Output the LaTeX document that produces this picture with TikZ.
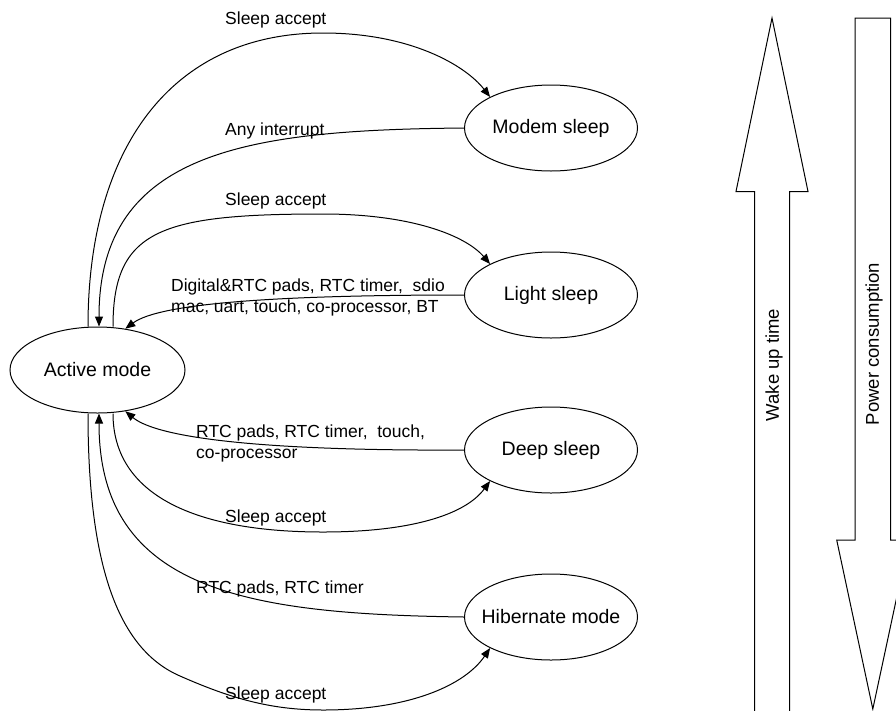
\documentclass[tikz,border=0pt]{standalone}
\usepackage{fontspec}
\setmainfont{Liberation Sans}
\usetikzlibrary{shapes.geometric,arrows.meta}
\newcommand\zwbox[1]{\makebox[0pt]{#1}}
\begin{document}
\begin{tikzpicture}[x=1pt,y=-1pt,
  state/.style={ellipse,draw,line width=1pt,inner sep=0pt,minimum width=173pt,minimum height=86pt,font=\fontsize{19.5}{23}\selectfont},
  lbl/.style={anchor=west,inner sep=0pt,align=left,font=\fontsize{17.5}{21}\selectfont},
  conn/.style={line width=1pt,-{Triangle[length=10pt,width=8pt]}},
  bigarrow/.style={draw,line width=1pt,line join=miter},
  vlbl/.style={rotate=90,inner sep=0pt,font=\fontsize{18.5}{22}\selectfont}]
\useasboundingbox (0,0) rectangle (896,710);
\begin{scope}
\clip (0,0) rectangle (896,710);
% states
\node[state,minimum width=175pt] (act) at (97.5,370) {\zwbox{Active mode}};
\node[state] (modem) at (551,128) {\zwbox{Modem sleep}};
\node[state] (light) at (551,295) {\zwbox{Light sleep}};
\node[state] (deep) at (551,450) {\zwbox{Deep sleep}};
\node[state] (hib) at (551,617) {\zwbox{Hibernate mode}};
% connectors
\draw[conn] ([xshift=-9.5pt]act.north) .. controls (88,150) and (170,33) .. (323,33)
  .. controls (410,33) and (465,65) .. (modem.153);
\draw[conn] (modem.west) .. controls (250,130) and (99,150) .. ([xshift=1.5pt]act.north);
\draw[conn] ([xshift=15.5pt]act.north) .. controls (113,230) and (160,214) .. (323,214)
  .. controls (410,214) and (465,235) .. (light.153);
\draw[conn] (light.west) .. controls (280,295) and (160,303) .. (act.56);
\draw[conn] (deep.west) .. controls (280,451) and (160,440) .. (act.-56);
\draw[conn] ([xshift=15.5pt]act.south) .. controls (113,495) and (195,532) .. (323,532)
  .. controls (410,532) and (465,515) .. (deep.207);
\draw[conn] (hib.west) .. controls (250,614) and (99,592) .. ([xshift=1.5pt]act.south);
\draw[conn] ([xshift=-9.5pt]act.south) .. controls (88,570) and (120,650) .. (180,676)
  .. controls (230,698) and (270,710) .. (323,710)
  .. controls (410,710) and (465,685) .. (hib.207);
% labels
\node[lbl] (l1) at (225,20) {Sleep accept};
\node[lbl] (l2) at (225,131) {Any interrupt};
\node[lbl] (l3) at (225,201) {Sleep accept};
\node[lbl] (l4) at (171,297.5) {Digital\&RTC pads, RTC timer,\ \ sdio\\mac, uart, touch, co-processor, BT};
\node[lbl] (l5) at (196,443) {RTC pads, RTC timer,\ \ touch,\\co-processor};
\node[lbl] (l6) at (225,518) {Sleep accept};
\node[lbl] (l7) at (196,589) {RTC pads, RTC timer};
\node[lbl] (l8) at (225,695) {Sleep accept};
% big arrows
\draw[bigarrow] (754.5,712) -- (754.5,191.5) -- (736,191.5) -- (772,18) -- (808,191.5) -- (789.5,191.5) -- (789.5,712);
\draw[bigarrow] (855,540) -- (855,18) -- (890.5,18) -- (890.5,540) -- (909,540) -- (872.8,709) -- (836.7,540) -- cycle;
\node[vlbl] (wake) at (774,365) {Wake up time};
\node[vlbl] (power) at (874,344) {Power consumption};
\end{scope}
\end{tikzpicture}
\end{document}
